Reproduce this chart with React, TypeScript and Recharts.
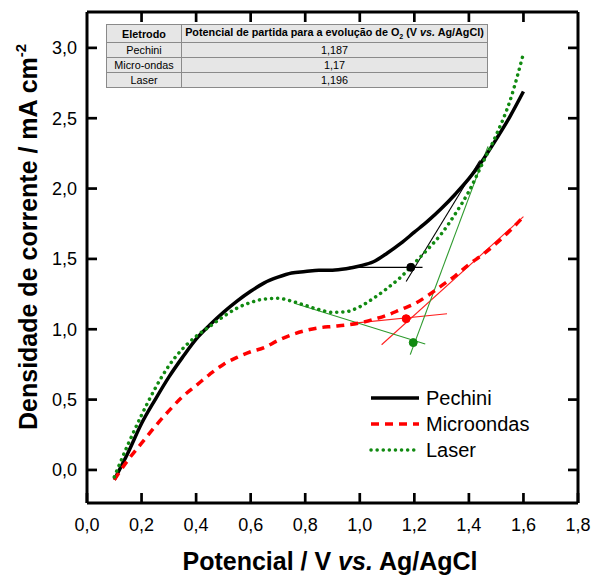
import React from 'react';
import { LineChart, Line, XAxis, YAxis, ReferenceLine, ReferenceDot, Label } from 'recharts';

const potencial = [0.1, 0.15, 0.2, 0.25, 0.3, 0.35, 0.4, 0.45, 0.5, 0.55, 0.6, 0.65, 0.7, 0.75, 0.8, 0.85, 0.9, 0.95, 1.0, 1.05, 1.1, 1.15, 1.2, 1.25, 1.3, 1.35, 1.4, 1.45, 1.5, 1.55, 1.6];
const pechini = [-0.07, 0.12, 0.33, 0.5, 0.66, 0.8, 0.93, 1.03, 1.12, 1.2, 1.27, 1.33, 1.37, 1.4, 1.41, 1.42, 1.42, 1.43, 1.45, 1.48, 1.54, 1.61, 1.69, 1.77, 1.86, 1.96, 2.07, 2.2, 2.35, 2.51, 2.69];
const microondas = [-0.07, 0.07, 0.19, 0.31, 0.42, 0.52, 0.6, 0.68, 0.75, 0.8, 0.84, 0.87, 0.92, 0.96, 0.99, 1.01, 1.02, 1.03, 1.045, 1.07, 1.1, 1.14, 1.18, 1.24, 1.31, 1.38, 1.46, 1.53, 1.61, 1.7, 1.8];
const laser = [-0.05, 0.18, 0.39, 0.58, 0.74, 0.86, 0.95, 1.02, 1.09, 1.15, 1.19, 1.215, 1.22, 1.2, 1.17, 1.14, 1.12, 1.125, 1.16, 1.22, 1.29, 1.37, 1.47, 1.57, 1.68, 1.82, 1.98, 2.18, 2.38, 2.62, 2.96];

const xTicks = [0, 0.2, 0.4, 0.6, 0.8, 1.0, 1.2, 1.4, 1.6, 1.8];
const yTicks = [0, 0.5, 1.0, 1.5, 2.0, 2.5, 3.0];

// onset potentials (table) and the tangent construction
const eletrodos = ['Pechini', 'Micro-ondas', 'Laser'];
const onset = ['1,187', '1,17', '1,196'];
const onsetPoints = [
  { x: 1.187, y: 1.44, color: '#000000' },
  { x: 1.17, y: 1.075, color: '#ff0000' },
  { x: 1.196, y: 0.905, color: '#118a11' },
];
const tangents = [
  { a: { x: 0.96, y: 1.44 }, b: { x: 1.23, y: 1.44 }, color: '#000000' },
  { a: { x: 1.17, y: 1.34 }, b: { x: 1.44, y: 2.2 }, color: '#000000' },
  { a: { x: 0.99, y: 1.045 }, b: { x: 1.32, y: 1.11 }, color: '#ff2020' },
  { a: { x: 1.08, y: 0.89 }, b: { x: 1.6, y: 1.8 }, color: '#ff2020' },
  { a: { x: 0.76, y: 1.185 }, b: { x: 1.24, y: 0.895 }, color: '#2e9a2e' },
  { a: { x: 1.185, y: 0.82 }, b: { x: 1.47, y: 2.3 }, color: '#2e9a2e' },
];

const data = potencial.map((x, i) => ({ x, pechini: pechini[i], microondas: microondas[i], laser: laser[i] }));

const font = 'Arial, "Liberation Sans", sans-serif';
const fmt = (v: number) => v.toFixed(1).replace('.', ',');
const xDomain = [0, 1.8];
const yDomain = [-0.235, 3.255];

// plot frame (chart margin + axis sizes)
const W = 596, H = 576;
const M = { top: 2, right: 8, left: 0, bottom: 0 };
const frame = { left: 87, top: M.top + 10, right: W - M.right - 10, bottom: H - 73 };
const fx = (v: number) => frame.left + ((v - xDomain[0]) / (xDomain[1] - xDomain[0])) * (frame.right - frame.left);
const fy = (v: number) => frame.top + ((yDomain[1] - v) / (yDomain[1] - yDomain[0])) * (frame.bottom - frame.top);

const legendItems = [
  { name: 'Pechini', color: '#000000', dash: undefined },
  { name: 'Microondas', color: '#ff0000', dash: '8 6' },
  { name: 'Laser', color: '#118a11', dash: '0.1 6' },
];

const cell: React.CSSProperties = { border: '1px solid #8a8a8a', padding: 0, textAlign: 'center', whiteSpace: 'nowrap' };
const axisStroke = { stroke: '#000', strokeWidth: 3 };
const tickStroke = { stroke: '#000', strokeWidth: 2.7 };

export default function App() {
  return (
    <div style={{ position: 'absolute', left: 0, top: 0, width: W, height: H, background: '#fff', fontFamily: font }}>
      <LineChart width={W} height={H} data={data} margin={M}>
        <XAxis dataKey="x" type="number" domain={xDomain} ticks={xTicks} tickFormatter={fmt} height={73}
          axisLine={axisStroke} tickLine={tickStroke} allowDataOverflow
          tickSize={-10} tickMargin={25} tick={{ fill: '#000', fontSize: 18, fontFamily: font }} interval={0}>
          <Label content={() => (
            <text x={330} y={570} textAnchor="middle" fontFamily={font} fontSize={25} fontWeight="bold" fill="#000">
              Potencial / V <tspan fontStyle="italic">vs.</tspan> Ag/AgCl
            </text>
          )} />
        </XAxis>
        <XAxis xAxisId="top" dataKey="x" orientation="top" type="number" domain={xDomain} height={10}
          allowDataOverflow tick={false} tickLine={false} axisLine={axisStroke} />
        <YAxis type="number" domain={yDomain} ticks={yTicks} tickFormatter={fmt} width={87}
          axisLine={axisStroke} tickLine={tickStroke} allowDataOverflow
          tickSize={-10} tickMargin={20} tick={{ fill: '#000', fontSize: 18, fontFamily: font }} interval={0}>
          <Label content={() => (
            <text x={37} y={430} transform="rotate(-90 37 430)" textAnchor="start" fontFamily={font}
              fontSize={25} fontWeight="bold" fill="#000">
              Densidade de corrente / mA cm<tspan dy={-11} fontSize={15}>-2</tspan>
            </text>
          )} />
        </YAxis>
        <YAxis yAxisId="right" orientation="right" type="number" domain={yDomain} width={10}
          allowDataOverflow tick={false} tickLine={false} axisLine={axisStroke} />

        {tangents.map((t, i) => (
          <ReferenceLine key={i} segment={[t.a, t.b]} stroke={t.color} strokeWidth={1.1} ifOverflow="visible" />
        ))}

        <Line type="monotone" dataKey="pechini" name="Pechini" stroke="#000000" strokeWidth={3.5} dot={false} isAnimationActive={false} />
        <Line type="monotone" dataKey="microondas" name="Microondas" stroke="#ff0000" strokeWidth={3.5} strokeDasharray="8 6" dot={false} isAnimationActive={false} />
        <Line type="monotone" dataKey="laser" name="Laser" stroke="#118a11" strokeWidth={3.5} strokeDasharray="0.1 6" strokeLinecap="round" dot={false} isAnimationActive={false} />
        {/* invisible series so the top and right frame axes get their scale */}
        <Line xAxisId="top" yAxisId="right" dataKey="pechini" stroke="none" dot={false} activeDot={false} legendType="none" isAnimationActive={false} />

        {onsetPoints.map((p, i) => (
          <ReferenceDot key={i} x={p.x} y={p.y} r={4} fill={p.color} stroke={p.color} ifOverflow="visible" />
        ))}
      </LineChart>

      {/* inward ticks of the top and right frame */}
      <svg width={W} height={H} style={{ position: 'absolute', left: 0, top: 0, pointerEvents: 'none' }}>
        {xTicks.slice(1, -1).map((t) => (
          <line key={`tx${t}`} x1={fx(t)} x2={fx(t)} y1={frame.top} y2={frame.top + 10} stroke="#000" strokeWidth={2.7} />
        ))}
        {yTicks.map((t) => (
          <line key={`ty${t}`} x1={frame.right} x2={frame.right - 10} y1={fy(t)} y2={fy(t)} stroke="#000" strokeWidth={2.7} />
        ))}
      </svg>

      <div style={{ position: 'absolute', left: 368, top: 385, fontFamily: font, fontSize: 20 }}>
        {legendItems.map((it) => (
          <div key={it.name} style={{ display: 'flex', alignItems: 'center', height: 26 }}>
            <svg width={52} height={10} style={{ marginRight: 6 }}>
              <line x1={3} y1={5} x2={51} y2={5} stroke={it.color} strokeWidth={3.5}
                strokeDasharray={it.dash} strokeLinecap={it.dash === '0.1 6' ? 'round' : 'butt'} />
            </svg>
            <span>{it.name}</span>
          </div>
        ))}
      </div>

      <table style={{ position: 'absolute', left: 106, top: 24, width: 382, borderCollapse: 'collapse', background: '#e6e6e6',
        fontFamily: font, fontSize: 10.8, color: '#000', border: '1px solid #555' }}>
        <tbody>
          <tr style={{ height: 18 }}>
            <td style={{ ...cell, width: 74, fontWeight: 'bold' }}>Eletrodo</td>
            <td style={{ ...cell, fontWeight: 'bold' }}>
              Potencial de partida para a evolução de O<sub style={{ fontSize: 7 }}>2</sub> (V <i>vs.</i> Ag/AgCl)
            </td>
          </tr>
          {eletrodos.map((e, i) => (
            <tr key={e} style={{ height: 15 }}>
              <td style={cell}>{e}</td>
              <td style={cell}>{onset[i]}</td>
            </tr>
          ))}
        </tbody>
      </table>
    </div>
  );
}
